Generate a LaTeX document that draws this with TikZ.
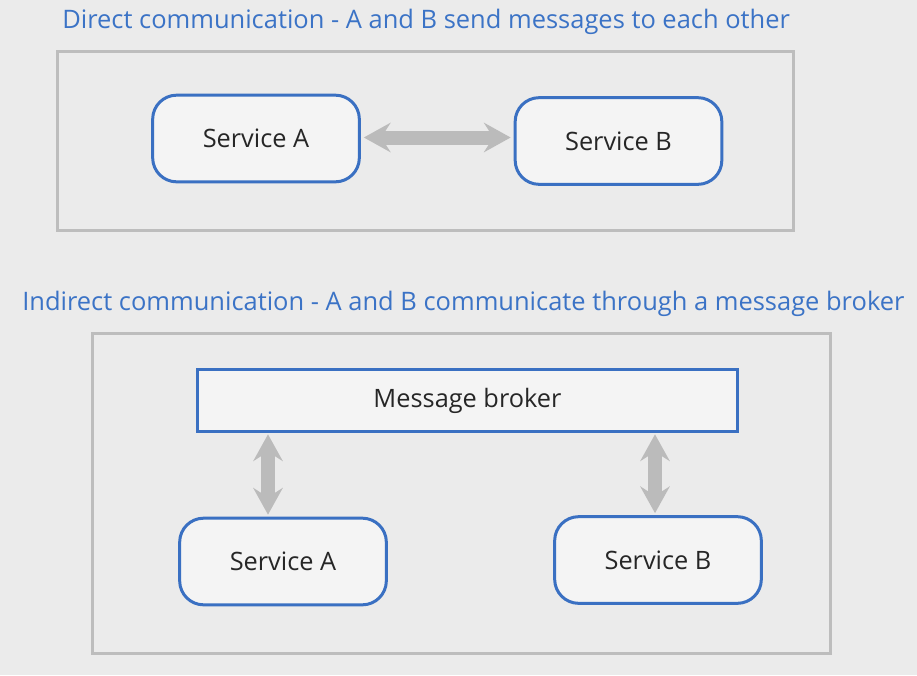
\documentclass[tikz,border=0pt]{standalone}
\usepackage{fontspec}
\setmainfont{Open Sans}
\usepackage{xcolor}
\usepackage{tikz}
\usetikzlibrary{positioning}
\usetikzlibrary{arrows.meta}
\usetikzlibrary{calc}
\definecolor{bgcol}{HTML}{EBEBEB}
\definecolor{nodefill}{HTML}{F4F4F4}
\definecolor{nodeblue}{HTML}{3A70C2}
\definecolor{titleblue}{HTML}{3B73C6}
\definecolor{arrowgray}{HTML}{BBBBBB}
\definecolor{framegray}{HTML}{BDBDBD}
\tikzstyle{service}=[rectangle,rounded corners=18pt,draw=nodeblue,fill=nodefill,line width=2.25pt,minimum width=155pt,minimum height=65pt,inner sep=0pt,font=\fontsize{19}{22}\selectfont,text=black!85]
\tikzstyle{broker}=[rectangle,draw=nodeblue,fill=nodefill,line width=2.25pt,minimum width=405pt,minimum height=47pt,inner sep=0pt,font=\fontsize{19}{22}\selectfont,text=black!85]
\tikzstyle{frame}=[draw=framegray,line width=2.25pt]
\tikzstyle{title}=[anchor=base west,inner sep=0pt,text=titleblue,font=\fontsize{19.1}{22}\selectfont]
\tikzstyle{biarrow} = [draw,arrowgray,line width=10.5pt,{Stealth[length=20pt,width=22pt,inset=7pt]}-{Stealth[length=20pt,width=22pt,inset=7pt]}]

\begin{document}
\begin{tikzpicture}[x=0.75pt,y=-0.75pt]

 \fill[bgcol] (0,0) rectangle (917,675);
 \useasboundingbox (0,0) rectangle (917,675);

 %Direct
 \draw[frame] (57,51) rectangle (793,230);
 \node[title] (titleD) at (62,28) {Direct communication - A and B send messages to each other};

   \foreach \x/\y/\name/\label in {256/138.5/topA/Service A, 618.5/141/topB/Service B}
          \node[service] (\name) at (\x,\y) {\label};

  \path[biarrow] ($(topA.east)+(3,-1)$) -- ($(topA.east -| topB.west)+(-3,-1)$);

 %Indirect
 \draw[frame] (92,333) rectangle (830,653);
 \node[title] (titleI) at (22,310) {Indirect communication - A and B communicate through a message broker};

 \node[broker] (broker) at (467.5,400.5) {Message broker};

   \foreach \x/\y/\name/\label in {283/561.5/botA/Service A, 658/560/botB/Service B}
          \node[service] (\name) at (\x,\y) {\label};

 \coordinate (pA) at (268,0);
 \coordinate (pB) at (655,0);

  \foreach \source/ \dest /\col in {broker/botA/pA, broker/botB/pB}
         \path[biarrow] ($(\col |- \source.south)+(0,1)$) -- ($(\col |- \dest.north)+(0,-2)$);

   \end{tikzpicture}
\end{document}
